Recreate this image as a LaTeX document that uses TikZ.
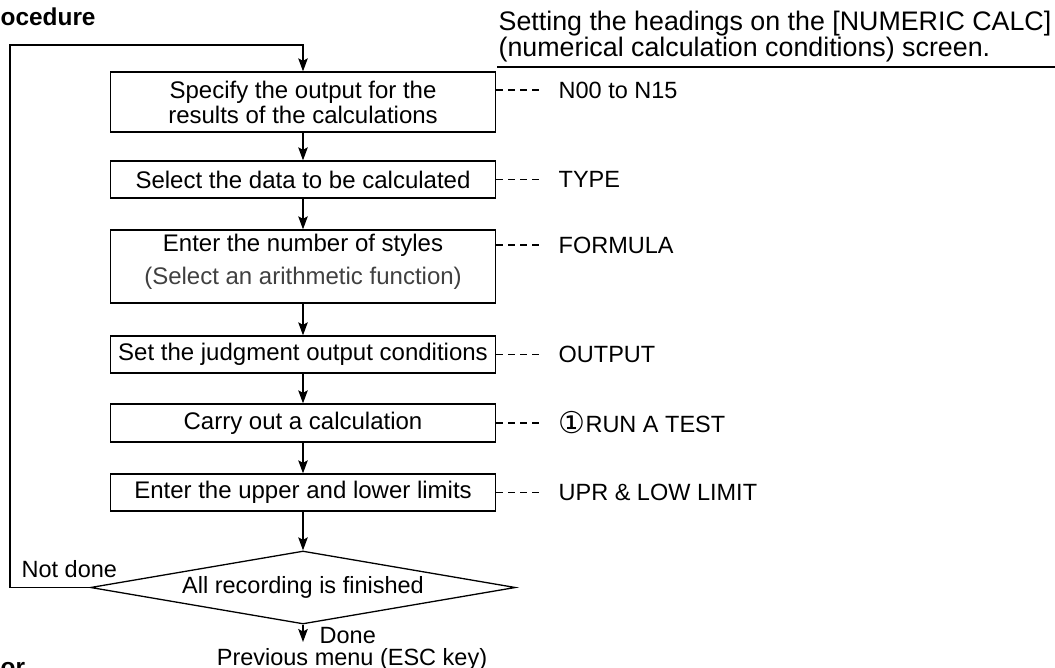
\documentclass[tikz,border=0pt]{standalone}
\usepackage{fontspec}
\setmainfont{Liberation Sans}
\newfontfamily\symfont{DejaVu Sans}
\usetikzlibrary{shapes.geometric,arrows.meta}

\begin{document}
\begin{tikzpicture}[x=1pt,y=-1pt,
  line width=1.3pt,
  txt/.style={font=\fontsize{23.5}{25}\selectfont},
  boxtxt/.style={font=\fontsize{24}{25}\selectfont},
  stepbox/.style={draw, boxtxt, minimum width=385pt, inner sep=0pt, align=center},
  flow/.style={-{Stealth[length=13pt,width=9.5pt,inset=2.5pt]}},
  leader/.style={line width=1.1pt, dash pattern=on 7pt off 5pt},
  lbl/.style={txt, anchor=west, inner sep=0pt},
  plain/.style={txt, inner sep=0pt},
  head/.style={font=\fontsize{26.8}{26}\selectfont, anchor=base west, inner sep=0pt},
  title/.style={font=\fontsize{24.4}{26}\selectfont\bfseries, anchor=base west, inner sep=0pt},
]
\useasboundingbox (0,0) rectangle (1055,668);

% section titles at the edges
\node[title] (ttl) at (0,26) {ocedure};
\node[title] (ttl2) at (0,675) {or};

% heading on the right
\node[head] (h1) at (498,31) {Setting the headings on the [NUMERIC CALC]};
\node[head] (h2) at (498,57) {(numerical calculation conditions) screen.};
\coordinate (ula) at (497,67);
\coordinate (ulb) at (1055,67);
\draw (ula) -- (ulb);

% procedure steps
\node[stepbox, minimum height=60pt] (b1) at (303,102)
  {Specify the output for the\\results of the calculations};
\node[stepbox, minimum height=37pt] (b2) at (303,179.5)
  {Select the data to be calculated};
\node[stepbox, minimum height=73pt] (b3) at (303,266.5)
  {Enter the number of styles\\[8pt]{\color{black!75}(Select an arithmetic function)}\rule[-15pt]{0pt}{1pt}};
\node[stepbox, minimum height=37pt] (b4) at (303,354.5)
  {Set the judgment output conditions};
\node[stepbox, minimum height=38pt] (b5) at (303,423)
  {Carry out a calculation};
\node[stepbox, minimum height=37pt] (b6) at (303,492.5)
  {Enter the upper and lower limits};
\node[draw, diamond, txt, aspect=5.8, minimum width=425pt, minimum height=73pt,
      inner sep=0pt] (dec) at (303,587.5) {All recording is finished};

% flow arrows
\draw[flow] (b1) -- (b2);
\draw[flow] (b2) -- (b3);
\draw[flow] (b3) -- (b4);
\draw[flow] (b4) -- (b5);
\draw[flow] (b5) -- (b6);
\draw[flow] (b6) -- (dec);

% loop back when not done
\coordinate (lp) at (10,45);
\draw[flow] (dec.west) -| (lp) -| (b1.north);
\node[plain, anchor=base west] (nd) at (21,577) {Not done};

% exit when done
\coordinate (dn) at (303,642);
\draw[flow] (dec.south) -- (dn);
\node[plain, anchor=base west] (done) at (319,643) {Done};
\node[plain, anchor=base] (prev) at (352,665) {Previous menu (ESC key)};

% screen item labels
\node[lbl] (l1) at (558,90) {N00 to N15};
\node[lbl] (l2) at (558,179.5) {TYPE};
\node[lbl] (l3) at (558,245) {FORMULA};
\node[lbl] (l4) at (558,354.5) {OUTPUT};
\node[lbl] (l5) at (558,423) {\raisebox{-1.5pt}{\symfont\fontsize{30}{30}\selectfont ①}RUN A TEST};
\node[lbl] (l6) at (558,492.5) {UPR \& LOW LIMIT};

\draw[leader] (b1.east |- l1.west) -- ([xshift=-18pt]l1.west);
\draw[leader] (b2.east |- l2.west) -- ([xshift=-18pt]l2.west);
\draw[leader] (b3.east |- l3.west) -- ([xshift=-18pt]l3.west);
\draw[leader] (b4.east |- l4.west) -- ([xshift=-18pt]l4.west);
\draw[leader] (b5.east |- l5.west) -- ([xshift=-18pt]l5.west);
\draw[leader] (b6.east |- l6.west) -- ([xshift=-18pt]l6.west);
\end{tikzpicture}
\end{document}
